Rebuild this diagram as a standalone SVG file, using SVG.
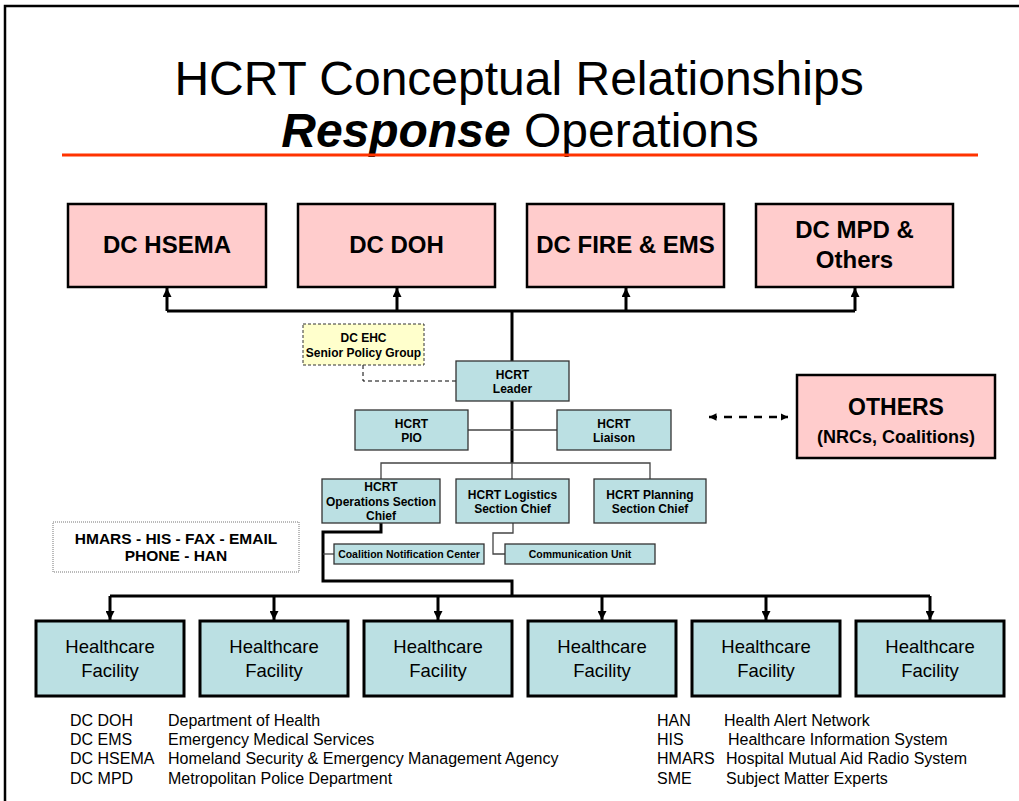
<svg xmlns="http://www.w3.org/2000/svg" width="1019" height="801" viewBox="0 0 1019 801">
  <style>
    text { font-family: "Liberation Sans", Arial, sans-serif; fill: #000; }
    .agency { fill: #FFCCCC; stroke: #000; stroke-width: 2.5; }
    .team { fill: #BBE0E3; stroke: #333; stroke-width: 1.3; }
    .facility { fill: #BBE0E3; stroke: #000; stroke-width: 3; }
    .policy { fill: #FFFFCC; stroke: #333; stroke-width: 1; stroke-dasharray: 3 2; }
    .media { fill: #fff; stroke: #777; stroke-width: 1; stroke-dasharray: 1 1; }
    .big { font-size: 24px; font-weight: bold; text-anchor: middle; }
    .lbl { font-size: 12px; font-weight: bold; text-anchor: middle; }
    .small { font-size: 10.5px; font-weight: bold; text-anchor: middle; }
    .fac { font-size: 18.5px; text-anchor: middle; }
    .legend { font-size: 16px; }
    .thick { fill: none; stroke: #000; stroke-width: 3; }
    .thin { fill: none; stroke: #444; stroke-width: 1.3; }
    .dash { fill: none; stroke: #000; stroke-width: 1; stroke-dasharray: 4 3; }
  </style>
  <defs>
    <marker id="arrow" viewBox="0 0 10 10" refX="10" refY="5" markerWidth="3" markerHeight="3" orient="auto-start-reverse">
      <path d="M0,0 L10,5 L0,10 z" fill="#000"/>
    </marker>
  </defs>

  <!-- page frame -->
  <rect x="5" y="6" width="1020" height="800" fill="#fff" stroke="#000" stroke-width="2.5"/>

  <!-- title -->
  <g id="title">
    <text x="519" y="95" font-size="48" text-anchor="middle">HCRT Conceptual Relationships</text>
    <text x="520" y="147" font-size="48" text-anchor="middle"><tspan font-weight="bold" font-style="italic">Response</tspan> Operations</text>
    <line x1="62" y1="155" x2="978" y2="155" stroke="#FF3300" stroke-width="3"/>
  </g>

  <!-- connectors -->
  <g id="connectors">
    <!-- leader up to the agencies -->
    <path class="thick" d="M512,361 V311"/>
    <path class="thick" d="M167,311 H855"/>
    <path class="thick" d="M167,311 V288" marker-end="url(#arrow)"/>
    <path class="thick" d="M397,311 V288" marker-end="url(#arrow)"/>
    <path class="thick" d="M626,311 V288" marker-end="url(#arrow)"/>
    <path class="thick" d="M855,311 V288" marker-end="url(#arrow)"/>
    <!-- policy group link -->
    <path class="dash" d="M363,365 V381 H456"/>
    <!-- leader down to the sections -->
    <path class="thick" d="M512,401 V463"/>
    <path class="thin" d="M468,430 H557"/>
    <path class="thin" d="M381,479 V463 H650 V479"/>
    <path class="thin" d="M512,463 V479"/>
    <!-- logistics to communication unit -->
    <path class="thin" d="M513,523 V533 H493 V554 H505"/>
    <!-- operations to notification center and facilities -->
    <path class="thick" d="M381,523 V532 H323 V581 H512 V596"/>
    <path class="thin" d="M323,554 H334"/>
    <path class="thick" d="M110,596 H930"/>
    <path class="thick" d="M110,596 V620" marker-end="url(#arrow)"/>
    <path class="thick" d="M274,596 V620" marker-end="url(#arrow)"/>
    <path class="thick" d="M438,596 V620" marker-end="url(#arrow)"/>
    <path class="thick" d="M602,596 V620" marker-end="url(#arrow)"/>
    <path class="thick" d="M766,596 V620" marker-end="url(#arrow)"/>
    <path class="thick" d="M930,596 V620" marker-end="url(#arrow)"/>
    <!-- link to other partners -->
    <path d="M709,417 H788" fill="none" stroke="#000" stroke-width="2.5" stroke-dasharray="8 7" marker-start="url(#arrow)" marker-end="url(#arrow)"/>
  </g>

  <!-- agencies -->
  <g id="hsema">
    <rect class="agency" x="68" y="204" width="198" height="83"/>
    <text class="big" x="167" y="253">DC HSEMA</text>
  </g>
  <g id="doh">
    <rect class="agency" x="298" y="204" width="197" height="83"/>
    <text class="big" x="396.5" y="253">DC DOH</text>
  </g>
  <g id="fire-ems">
    <rect class="agency" x="527" y="204" width="197" height="83"/>
    <text class="big" x="625.5" y="253">DC FIRE &amp; EMS</text>
  </g>
  <g id="mpd">
    <rect class="agency" x="756" y="204" width="197" height="83"/>
    <text class="big" x="854.5" y="238">DC MPD &amp;</text>
    <text class="big" x="854.5" y="268">Others</text>
  </g>

  <g id="others">
    <rect class="agency" x="797" y="375" width="198" height="83"/>
    <text x="896" y="415" font-size="23" font-weight="bold" text-anchor="middle">OTHERS</text>
    <text x="896" y="443" font-size="18" font-weight="bold" text-anchor="middle">(NRCs, Coalitions)</text>
  </g>

  <!-- HCRT organisation -->
  <g id="senior-policy-group">
    <rect class="policy" x="303" y="324" width="121" height="41"/>
    <text class="lbl" x="363.5" y="342">DC EHC</text>
    <text class="lbl" x="363.5" y="357">Senior Policy Group</text>
  </g>
  <g id="leader">
    <rect class="team" x="456" y="361" width="113" height="40"/>
    <text class="lbl" x="512.5" y="379">HCRT</text>
    <text class="lbl" x="512.5" y="393">Leader</text>
  </g>
  <g id="pio">
    <rect class="team" x="355" y="410" width="113" height="40"/>
    <text class="lbl" x="411.5" y="428">HCRT</text>
    <text class="lbl" x="411.5" y="442">PIO</text>
  </g>
  <g id="liaison">
    <rect class="team" x="557" y="410" width="114" height="40"/>
    <text class="lbl" x="614" y="428">HCRT</text>
    <text class="lbl" x="614" y="442">Liaison</text>
  </g>
  <g id="operations">
    <rect class="team" x="322" y="479" width="118" height="44"/>
    <text class="lbl" x="381" y="491">HCRT</text>
    <text class="lbl" x="381" y="506">Operations Section</text>
    <text class="lbl" x="381" y="520">Chief</text>
  </g>
  <g id="logistics">
    <rect class="team" x="456" y="479" width="113" height="44"/>
    <text class="lbl" x="512.5" y="499">HCRT Logistics</text>
    <text class="lbl" x="512.5" y="513">Section Chief</text>
  </g>
  <g id="planning">
    <rect class="team" x="594" y="479" width="112" height="44"/>
    <text class="lbl" x="650" y="499">HCRT Planning</text>
    <text class="lbl" x="650" y="513">Section Chief</text>
  </g>
  <g id="notification-center">
    <rect class="team" x="334" y="544" width="150" height="20"/>
    <text class="small" x="409" y="558">Coalition Notification Center</text>
  </g>
  <g id="communication-unit">
    <rect class="team" x="505" y="544" width="150" height="20"/>
    <text class="small" x="580" y="558">Communication Unit</text>
  </g>

  <g id="channels">
    <rect class="media" x="53" y="522" width="246" height="50"/>
    <text x="176" y="544" font-size="15.5" font-weight="bold" text-anchor="middle">HMARS - HIS - FAX - EMAIL</text>
    <text x="176" y="561" font-size="15.5" font-weight="bold" text-anchor="middle">PHONE - HAN</text>
  </g>

  <!-- facilities -->
  <g id="facility-1">
    <rect class="facility" x="36" y="621" width="148" height="75"/>
    <text class="fac" x="110" y="653">Healthcare</text>
    <text class="fac" x="110" y="677">Facility</text>
  </g>
  <g id="facility-2">
    <rect class="facility" x="200" y="621" width="148" height="75"/>
    <text class="fac" x="274" y="653">Healthcare</text>
    <text class="fac" x="274" y="677">Facility</text>
  </g>
  <g id="facility-3">
    <rect class="facility" x="364" y="621" width="148" height="75"/>
    <text class="fac" x="438" y="653">Healthcare</text>
    <text class="fac" x="438" y="677">Facility</text>
  </g>
  <g id="facility-4">
    <rect class="facility" x="528" y="621" width="148" height="75"/>
    <text class="fac" x="602" y="653">Healthcare</text>
    <text class="fac" x="602" y="677">Facility</text>
  </g>
  <g id="facility-5">
    <rect class="facility" x="692" y="621" width="148" height="75"/>
    <text class="fac" x="766" y="653">Healthcare</text>
    <text class="fac" x="766" y="677">Facility</text>
  </g>
  <g id="facility-6">
    <rect class="facility" x="856" y="621" width="148" height="75"/>
    <text class="fac" x="930" y="653">Healthcare</text>
    <text class="fac" x="930" y="677">Facility</text>
  </g>

  <!-- abbreviations -->
  <g id="legend-agencies">
    <text class="legend" x="70" y="726">DC DOH</text>
    <text class="legend" x="168" y="726">Department of Health</text>
    <text class="legend" x="70" y="745">DC EMS</text>
    <text class="legend" x="168" y="745">Emergency Medical Services</text>
    <text class="legend" x="70" y="764">DC HSEMA</text>
    <text class="legend" x="168" y="764">Homeland Security &amp; Emergency Management Agency</text>
    <text class="legend" x="70" y="784">DC MPD</text>
    <text class="legend" x="168" y="784">Metropolitan Police Department</text>
  </g>
  <g id="legend-systems">
    <text class="legend" x="657" y="726">HAN</text>
    <text class="legend" x="724" y="726">Health Alert Network</text>
    <text class="legend" x="657" y="745">HIS</text>
    <text class="legend" x="728" y="745">Healthcare Information System</text>
    <text class="legend" x="657" y="764">HMARS</text>
    <text class="legend" x="726" y="764">Hospital Mutual Aid Radio System</text>
    <text class="legend" x="657" y="784">SME</text>
    <text class="legend" x="726" y="784">Subject Matter Experts</text>
  </g>
</svg>
